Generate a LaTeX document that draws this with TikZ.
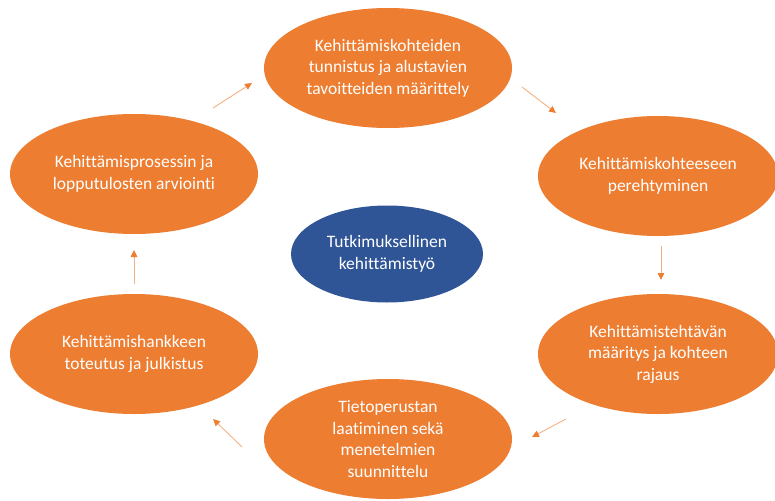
\documentclass[tikz,border=0pt]{standalone}
\usepackage{fontspec}
\setmainfont{Carlito}[Ligatures=NoCommon]
\usetikzlibrary{shapes.geometric,arrows.meta}
\definecolor{orangeC}{HTML}{ED7D31}
\definecolor{lineC}{HTML}{F4B183}
\definecolor{blueC}{HTML}{2F5597}
\tikzset{
  phase/.style={ellipse, fill=orangeC, draw=none, text=white, align=center,
    minimum width=248pt, minimum height=120pt, inner sep=0pt,
    font=\fontsize{17.5}{21.5}\selectfont},
  core/.style={ellipse, fill=blueC, draw=none, text=white, align=center,
    minimum width=192pt, minimum height=97pt, inner sep=0pt,
    font=\fontsize{17.5}{21.5}\selectfont},
  arr/.style={draw=lineC, line width=0.9pt,
    -{Triangle[length=7pt,width=6.5pt,color=orangeC]}}
}
\begin{document}
\begin{tikzpicture}[x=1pt,y=-1pt]
\useasboundingbox (0,0) rectangle (775,500);
\clip (0,0) rectangle (775,500);
\node[phase] (top) at (388,68) {Kehittämiskohteiden\\tunnistus ja alustavien\\tavoitteiden määrittely};
\node[phase, minimum width=240pt] (rt) at (658,176) {Kehittämiskohteeseen\\perehtyminen};
\node[phase, minimum width=240pt] (rb) at (658,354) {Kehittämistehtävän\\määritys ja kohteen\\rajaus};
\node[phase] (bot) at (388,439) {Tietoperustan\\laatiminen sekä\\menetelmien\\suunnittelu};
\node[phase] (lb) at (134,354) {Kehittämishankkeen\\toteutus ja julkistus};
\node[phase] (lt) at (134,174) {Kehittämisprosessin ja\\lopputulosten arviointi};
\node[core] (mid) at (387,254) {Tutkimuksellinen\\kehittämistyö};
\draw[arr] ([shift={(79,-66)}]lt.center) -- ([shift={(-136,15)}]top.center);
\draw[arr] ([shift={(134,19)}]top.center) -- ([shift={(-102,-63)}]rt.center);
\draw[arr] ([shift={(3,70)}]rt.center) -- ([shift={(3,-74)}]rb.center);
\draw[arr] ([shift={(-92,65)}]rb.center) -- ([shift={(144,-2)}]bot.center);
\draw[arr] ([shift={(-146,8)}]bot.center) -- ([shift={(79,65)}]lb.center);
\draw[arr] ([shift={(0,-70)}]lb.center) -- ([shift={(0,76)}]lt.center);
\end{tikzpicture}
\end{document}
